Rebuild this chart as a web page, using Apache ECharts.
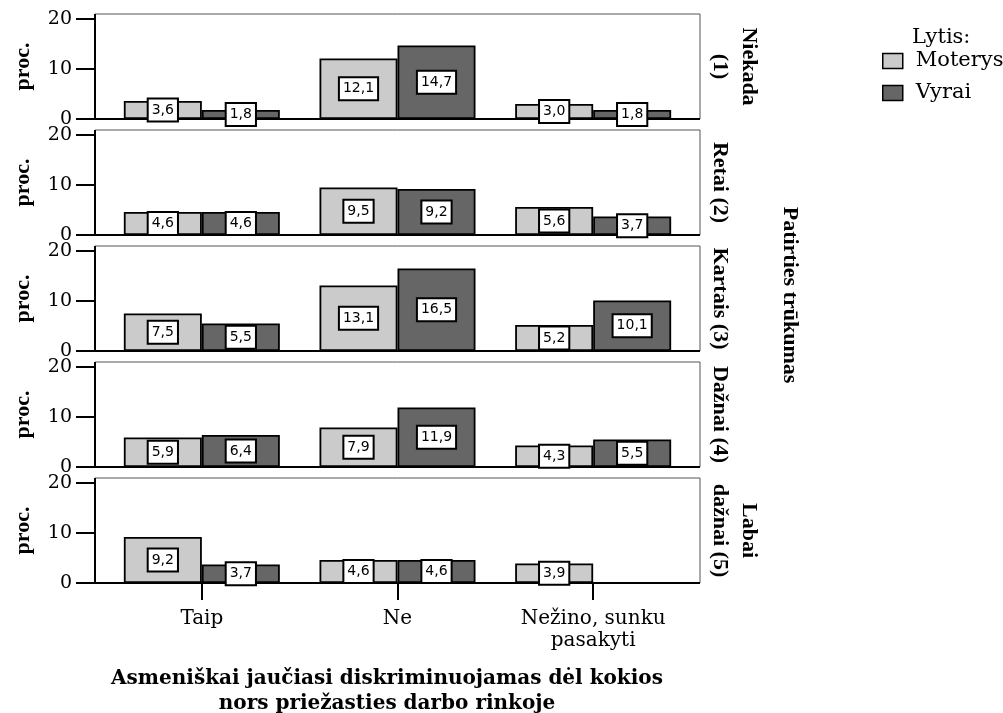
<!DOCTYPE html>
<html><head><meta charset="utf-8">
<script src="https://cdn.jsdelivr.net/npm/echarts@6/dist/echarts.min.js"></script>
<style>html,body{margin:0;padding:0;background:#fff}#c{width:1003px;height:713px}</style>
</head><body><div id="c"></div>
<script>
// ---- data ----
const categories = ['Taip', 'Ne', 'Nežino, sunku\npasakyti'];
const panelLabels = ['Niekada\n(1)', 'Retai (2)', 'Kartais (3)', 'Dažnai (4)', 'Labai\ndažnai (5)'];
const seriesNames = ['Moterys', 'Vyrai'];
const moterys = [
  [3.6, 12.1, 3.0],
  [4.6, 9.5, 5.6],
  [7.5, 13.1, 5.2],
  [5.9, 7.9, 4.3],
  [9.2, 4.6, 3.9]
];
const vyrai = [
  [1.8, 14.7, 1.8],
  [4.6, 9.2, 3.7],
  [5.5, 16.5, 10.1],
  [6.4, 11.9, 5.5],
  [3.7, 4.6, null]
];
const yTicks = [0, 10, 20];
const yAxisTitle = 'proc.';
const panelTitle = 'Patirties trūkumas';
const legendTitle = 'Lytis:';
const xTitle = 'Asmeniškai jaučiasi diskriminuojamas dėl kokios\nnors priežasties darbo rinkoje';

// ---- layout ----
const FRAME_L = 95, FRAME_R = 700, GRID_L = 104, GRID_W = 587;
const TOPS = [14, 130, 246, 362, 478], GH = 105;
const COLORS = ['#cbcbcb', '#666666'];

const grids = [], xAxes = [], yAxes = [], series = [], graphics = [];
TOPS.forEach((top, i) => {
  const last = i === TOPS.length - 1;
  grids.push({ left: GRID_L, top: top, width: GRID_W, height: GH, outerBoundsMode: 'none' });
  xAxes.push({
    type: 'category', gridIndex: i, data: categories,
    axisLine: { show: false },
    axisTick: { show: last, alignWithLabel: true, length: 17, lineStyle: { color: '#000', width: 2 } },
    axisLabel: { show: last, fontFamily: 'DejaVu Serif', fontSize: 20, lineHeight: 22, color: '#000', margin: 25 },
    splitLine: { show: false }
  });
  yAxes.push({
    type: 'value', gridIndex: i, min: 0, max: 21, offset: 9,
    axisLine: { show: false },
    axisTick: { show: true, customValues: yTicks, length: 19, lineStyle: { color: '#000', width: 2 } },
    axisLabel: { customValues: yTicks, margin: 23, fontFamily: 'DejaVu Serif', fontSize: 19, color: '#000' },
    splitLine: { show: false },
    name: yAxisTitle, nameLocation: 'middle', nameGap: 61,
    nameTextStyle: { fontFamily: 'Liberation Serif', fontWeight: 'bold', fontSize: 22, color: '#000' }
  });
  [moterys[i], vyrai[i]].forEach((vals, s) => {
    series.push({
      type: 'bar', name: seriesNames[s], xAxisIndex: i, yAxisIndex: i, data: vals,
      barWidth: 78, barGap: '0%',
      itemStyle: { color: COLORS[s], borderColor: '#000', borderWidth: 1.8 },
      label: {
        show: true, position: 'inside',
        formatter: p => (p.value == null ? '' : Number(p.value).toFixed(1).replace('.', ',')),
        fontFamily: 'DejaVu Sans', fontSize: 14, lineHeight: 15, color: '#000',
        backgroundColor: '#fff', borderColor: '#000', borderWidth: 2, padding: [3, 3]
      }
    });
  });
  // frame
  graphics.push({ type: 'rect', shape: { x: FRAME_L, y: top, width: FRAME_R - FRAME_L, height: GH },
    style: { fill: 'none', stroke: '#555', lineWidth: 1 }, z: 0 });
  graphics.push({ type: 'line', shape: { x1: FRAME_L, y1: top, x2: FRAME_L, y2: top + GH },
    style: { stroke: '#000', lineWidth: 2 }, z: 1 });
  graphics.push({ type: 'line', shape: { x1: FRAME_L, y1: top + GH, x2: FRAME_R, y2: top + GH },
    style: { stroke: '#000', lineWidth: 2 }, z: 1 });
  // panel label on the right
  graphics.push({ type: 'text', x: 705, y: top + GH / 2, rotation: -Math.PI / 2, z: 5,
    style: { text: panelLabels[i], font: 'bold 22px "Liberation Serif"', fill: '#000',
      textAlign: 'center', textVerticalAlign: 'bottom', lineHeight: 29 } });
});

graphics.push({ type: 'text', x: 790, y: 295, rotation: -Math.PI / 2, z: 5,
  style: { text: panelTitle, font: 'bold 22px "Liberation Serif"', fill: '#000',
    textAlign: 'center', textVerticalAlign: 'middle' } });
graphics.push({ type: 'text', x: 912, y: 38, z: 5,
  style: { text: legendTitle, font: '21px "DejaVu Serif"', fill: '#000',
    textAlign: 'left', textVerticalAlign: 'middle' } });
graphics.push({ type: 'text', x: 387, y: 666, z: 5,
  style: { text: xTitle, font: 'bold 20px "DejaVu Serif"', fill: '#000',
    textAlign: 'center', textVerticalAlign: 'top', lineHeight: 25 } });

const chart = echarts.init(document.getElementById('c'), null, { renderer: 'canvas' });
chart.setOption({
  animation: false,
  backgroundColor: '#fff',
  grid: grids, xAxis: xAxes, yAxis: yAxes, series: series,
  legend: {
    data: seriesNames, orient: 'vertical', left: 882, top: 49, padding: 0,
    icon: 'rect', itemWidth: 20, itemHeight: 15, itemGap: 8,
    itemStyle: { borderColor: '#000', borderWidth: 1.5 },
    textStyle: { fontFamily: 'DejaVu Serif', fontSize: 21, color: '#000', lineHeight: 24, padding: [0, 0, 0, 8] }
  },
  graphic: graphics
});
</script>
</body></html>
